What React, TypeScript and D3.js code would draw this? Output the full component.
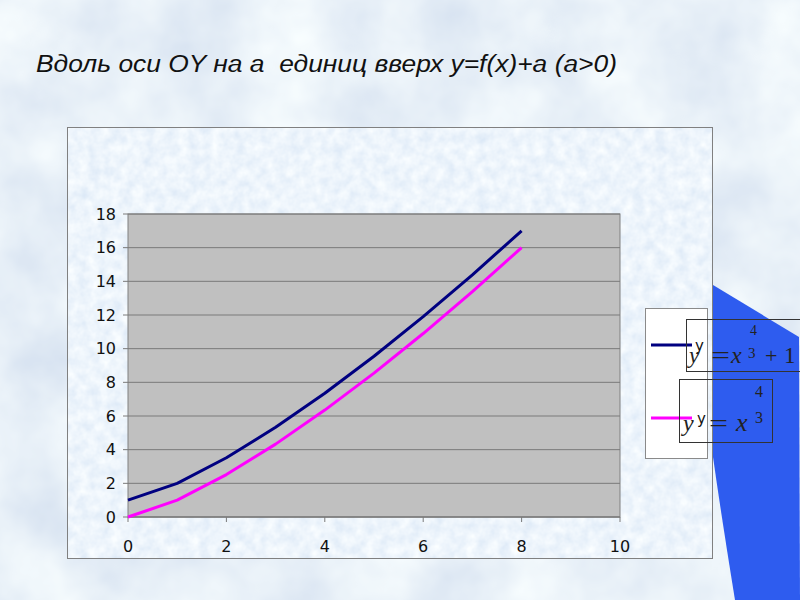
import React from "react";
import * as d3 from "d3";

const titleText = "Вдоль оси OY на a  единиц вверх y=f(x)+a (a>0)";
const xValues = [0, 1, 2, 3, 4, 5, 6, 7, 8];
const seriesShifted = [1, 2, 3.52, 5.33, 7.35, 9.55, 11.9, 14.39, 17];
const seriesBase = [0, 1, 2.52, 4.33, 6.35, 8.55, 10.9, 13.39, 16];
const xTicks = [0, 2, 4, 6, 8, 10];
const yTicks = [0, 2, 4, 6, 8, 10, 12, 14, 16, 18];
const legendLabels = ["y", "y"];

const W = 800, H = 600;
const plot = { left: 128, top: 214, right: 620, bottom: 517 };

export default function App() {
  const x = d3.scaleLinear().domain([0, 10]).range([plot.left, plot.right]);
  const y = d3.scaleLinear().domain([0, 18]).range([plot.bottom, plot.top]);
  const line = d3
    .line<number>()
    .x((_, i) => x(xValues[i]))
    .y((d) => y(d));

  const sans = "'DejaVu Sans', Verdana, sans-serif";
  const serif = "'Liberation Serif', 'Times New Roman', serif";

  return (
    <div style={{ position: "fixed", left: 0, top: 0, width: W, height: H }}>
      <svg width={W} height={H} style={{ display: "block" }}>
        <defs>
          <filter id="tex" x="0" y="0" width="100%" height="100%">
            <feTurbulence type="fractalNoise" baseFrequency="0.012" numOctaves="4" seed="4" result="n" />
            <feColorMatrix
              in="n"
              type="matrix"
              values="0.35 0 0 0 0.64  0.3 0 0 0 0.73  0.16 0 0 0 0.86  0 0 0 0 1"
            />
          </filter>
          <filter id="tex2" x="0" y="0" width="100%" height="100%">
            <feTurbulence type="fractalNoise" baseFrequency="0.09" numOctaves="3" seed="9" result="n" />
            <feColorMatrix
              in="n"
              type="matrix"
              values="0.3 0 0 0 0.7  0.22 0 0 0 0.8  0.1 0 0 0 0.92  0 0 0 0 1"
            />
          </filter>
        </defs>
        <rect x={0} y={0} width={W} height={H} fill="#d2e2f2" />
        <rect x={0} y={0} width={W} height={H} filter="url(#tex)" />

        {/* blue decorative shape */}
        <path d="M713,285 L799,337 L800,600 L735,600 Q722,520 713,457 Z" fill="#2e5cef" />

        {/* chart area */}
        <rect x={67} y={127} width={646} height={432} filter="url(#tex2)" />
        <rect x={67.5} y={127.5} width={645} height={431} fill="none" stroke="#808080" strokeWidth={1} />

        {/* plot area */}
        <rect
          x={plot.left}
          y={plot.top}
          width={plot.right - plot.left}
          height={plot.bottom - plot.top}
          fill="#c0c0c0"
          stroke="#808080"
          strokeWidth={1}
        />
        {yTicks.map((t) => (
          <g key={"y" + t}>
            <line x1={plot.left} x2={plot.right} y1={y(t)} y2={y(t)} stroke="#7a7a7a" strokeWidth={1} />
            <line x1={plot.left - 5} x2={plot.left} y1={y(t)} y2={y(t)} stroke="#7a7a7a" strokeWidth={1} />
            <text x={116} y={y(t)} dy="0.36em" textAnchor="end" fontFamily={sans} fontSize={16} fill="#111">
              {t}
            </text>
          </g>
        ))}
        {xTicks.map((t) => (
          <g key={"x" + t}>
            <line x1={x(t)} x2={x(t)} y1={plot.bottom} y2={plot.bottom + 5} stroke="#7a7a7a" strokeWidth={1} />
            <text x={x(t)} y={546} dy="0.36em" textAnchor="middle" fontFamily={sans} fontSize={16} fill="#111">
              {t}
            </text>
          </g>
        ))}
        <line x1={plot.left} x2={plot.right} y1={plot.bottom} y2={plot.bottom} stroke="#7a7a7a" />

        <path d={line(seriesBase) || ""} fill="none" stroke="#ff00ff" strokeWidth={3} strokeLinejoin="round" />
        <path d={line(seriesShifted) || ""} fill="none" stroke="#000080" strokeWidth={3} strokeLinejoin="round" />

        {/* legend */}
        <rect x={645.5} y={308.5} width={62} height={150} fill="#ffffff" stroke="#8a8a8a" strokeWidth={1} />
        <line x1={651} x2={692} y1={345} y2={345} stroke="#000080" strokeWidth={3} />
        <line x1={651} x2={692} y1={418} y2={418} stroke="#ff00ff" strokeWidth={3} />
        <text x={695} y={351} fontFamily={sans} fontSize={15} fill="#111">
          {legendLabels[0]}
        </text>
        <text x={697} y={424} fontFamily={sans} fontSize={15} fill="#111">
          {legendLabels[1]}
        </text>

        {/* equation boxes */}
        <rect x={686.5} y={319.5} width={130} height={52} fill="none" stroke="#333" strokeWidth={1} />
        <g fontFamily={serif} fill="#222">
          <text x={750} y={335} fontSize={14}>4</text>
          <text x={689} y={363} fontSize={23} fontStyle="italic">y</text>
          <text x={711} y={363} fontSize={23} textLength={19} lengthAdjust="spacingAndGlyphs">=</text>
          <text x={731} y={363} fontSize={24} fontStyle="italic">x</text>
          <text x={748} y={358} fontSize={15}>3</text>
          <text x={765} y={363} fontSize={22}>+</text>
          <text x={784} y={363} fontSize={23}>1</text>
        </g>
        <rect x={679.5} y={379.5} width={93} height={63} fill="none" stroke="#333" strokeWidth={1} />
        <g fontFamily={serif} fill="#222">
          <text x={755} y={397} fontSize={16}>4</text>
          <text x={683} y={431} fontSize={24} fontStyle="italic">y</text>
          <text x={709} y={431} fontSize={23} textLength={19} lengthAdjust="spacingAndGlyphs">=</text>
          <text x={736} y={431} fontSize={26} fontStyle="italic">x</text>
          <text x={755} y={423} fontSize={16}>3</text>
        </g>

        {/* title */}
        <text
          x={36}
          y={72}
          fontFamily="'Liberation Sans', Arial, sans-serif"
          fontStyle="italic"
          fontSize={23}
          fill="#111"
          textLength={581}
          lengthAdjust="spacingAndGlyphs"
          style={{ whiteSpace: "pre" }}
        >
          {titleText}
        </text>
      </svg>
    </div>
  );
}
